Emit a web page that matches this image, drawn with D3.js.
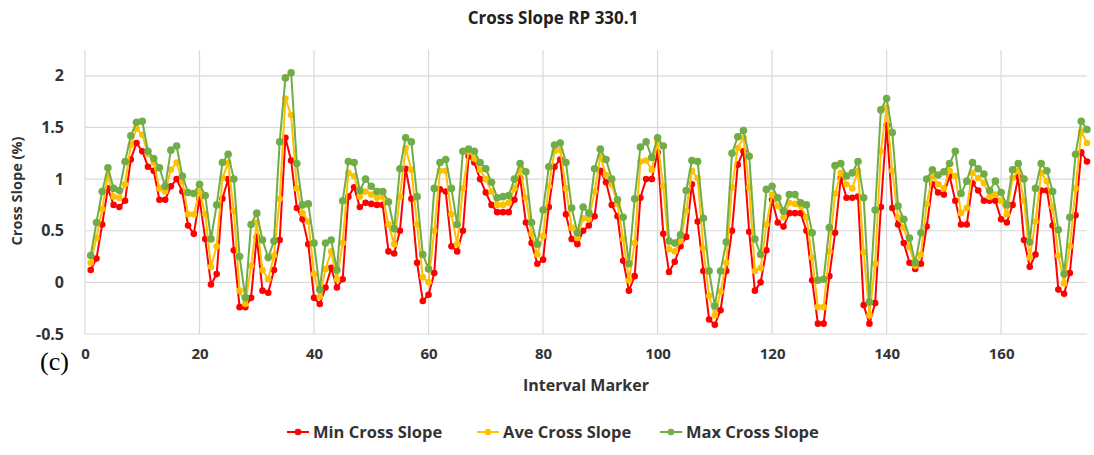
<!DOCTYPE html>
<html><head><meta charset="utf-8">
<script src="https://cdn.jsdelivr.net/npm/d3@7"></script>
<style>
html,body{margin:0;padding:0;background:#fff;}
svg{display:block;}
</style></head>
<body>
<svg id="chart" width="1094" height="455"></svg>
<script>
const title = "Cross Slope RP 330.1";
const xTitle = "Interval Marker";
const yTitle = "Cross Slope (%)";
const seriesNames = ["Min Cross Slope", "Ave Cross Slope", "Max Cross Slope"];
const seriesColors = ["#FF0000", "#FFC000", "#70AD47"];
const xTicks = [0, 20, 40, 60, 80, 100, 120, 140, 160];
const yTicks = [-0.5, 0, 0.5, 1, 1.5, 2];
const yTickLabels = ["-0.5", "0", "0.5", "1", "1.5", "2"];

const minSlope = [0.12,0.23,0.56,0.91,0.75,0.73,0.79,1.19,1.35,1.27,1.12,1.08,0.80,0.80,0.93,1.00,0.88,0.55,0.47,0.81,
0.42,-0.02,0.08,0.81,1.00,0.31,-0.24,-0.24,-0.15,0.44,-0.08,-0.10,0.12,0.41,1.40,1.18,0.72,0.61,0.37,-0.15,
-0.21,-0.05,0.14,-0.05,0.03,0.83,0.92,0.73,0.77,0.76,0.75,0.75,0.30,0.28,0.50,1.10,0.81,0.19,-0.18,-0.12,
0.09,0.90,0.88,0.35,0.30,0.50,1.22,1.16,1.00,0.87,0.75,0.68,0.68,0.68,0.80,1.01,0.58,0.38,0.18,0.22,
0.73,1.12,1.19,0.66,0.42,0.37,0.50,0.55,0.64,1.08,0.97,0.75,0.64,0.21,-0.08,0.06,0.82,1.00,1.00,1.26,
0.47,0.10,0.20,0.35,0.44,0.95,0.59,0.11,-0.36,-0.41,-0.27,0.11,0.50,1.14,1.27,0.49,-0.08,0.00,0.31,0.80,
0.58,0.54,0.67,0.67,0.67,0.50,0.02,-0.40,-0.40,0.06,0.48,1.01,0.82,0.82,0.83,-0.22,-0.40,-0.20,0.73,1.52,
0.72,0.56,0.38,0.19,0.13,0.18,0.54,0.95,0.87,0.85,1.03,0.79,0.56,0.56,0.96,0.89,0.79,0.79,0.79,0.61,
0.58,0.75,1.02,0.41,0.15,0.27,0.89,0.89,0.55,-0.07,-0.11,0.09,0.65,1.26,1.17];

const aveSlope = [0.19,0.43,0.71,1.03,0.83,0.82,0.95,1.33,1.49,1.43,1.24,1.16,0.91,0.88,1.09,1.16,0.98,0.66,0.66,0.88,
0.66,0.15,0.35,1.01,1.16,0.69,-0.08,-0.21,0.16,0.58,0.12,0.03,0.26,0.81,1.78,1.62,0.91,0.67,0.59,0.08,
-0.14,0.13,0.30,0.03,0.38,1.06,1.03,0.83,0.88,0.85,0.82,0.83,0.56,0.37,0.83,1.30,1.09,0.56,0.05,0.00,
0.50,1.08,1.08,0.66,0.37,0.91,1.27,1.20,1.09,1.00,0.88,0.75,0.75,0.77,0.91,1.09,0.82,0.47,0.27,0.45,
0.93,1.27,1.28,0.91,0.53,0.43,0.62,0.61,0.88,1.22,1.04,0.95,0.76,0.42,0.02,0.38,1.17,1.18,1.09,1.36,
0.93,0.32,0.30,0.40,0.69,1.08,1.01,0.33,-0.13,-0.32,-0.09,0.19,0.92,1.30,1.40,0.92,0.11,0.14,0.56,0.85,
0.74,0.63,0.77,0.76,0.74,0.63,0.24,-0.24,-0.24,0.30,0.86,1.06,0.95,0.91,1.08,0.29,-0.32,0.18,1.27,1.69,
1.08,0.63,0.53,0.34,0.16,0.27,0.76,1.03,0.95,0.91,1.08,1.03,0.67,0.72,1.06,1.01,0.96,0.83,0.85,0.79,
0.66,1.01,1.08,0.79,0.24,0.59,1.06,0.98,0.73,0.26,-0.01,0.35,0.91,1.46,1.35];

const maxSlope = [0.26,0.58,0.88,1.11,0.91,0.89,1.17,1.42,1.55,1.56,1.27,1.20,1.11,0.93,1.28,1.32,1.03,0.87,0.86,0.95,
0.84,0.42,0.75,1.16,1.24,1.00,0.25,-0.15,0.56,0.67,0.41,0.24,0.40,1.36,1.98,2.03,1.15,0.75,0.76,0.38,
-0.07,0.38,0.41,0.12,0.79,1.17,1.16,0.89,1.00,0.93,0.88,0.88,0.78,0.52,1.10,1.40,1.36,0.83,0.27,0.13,
0.91,1.16,1.19,0.91,0.56,1.27,1.29,1.27,1.16,1.10,0.97,0.82,0.83,0.84,1.00,1.15,1.07,0.58,0.37,0.70,
1.12,1.33,1.35,1.16,0.72,0.48,0.73,0.67,1.10,1.29,1.19,1.00,0.80,0.63,0.18,0.81,1.31,1.36,1.21,1.40,
1.32,0.40,0.38,0.46,0.89,1.18,1.17,0.62,0.11,-0.23,0.11,0.39,1.25,1.41,1.47,1.22,0.42,0.27,0.90,0.93,
0.82,0.69,0.85,0.85,0.77,0.75,0.48,0.02,0.03,0.53,1.13,1.15,1.03,1.06,1.17,0.82,-0.19,0.70,1.67,1.78,
1.45,0.74,0.61,0.43,0.19,0.48,1.00,1.09,1.04,1.07,1.15,1.27,0.86,0.98,1.16,1.10,1.05,0.89,0.98,0.87,
0.75,1.09,1.15,1.00,0.39,0.91,1.15,1.08,0.88,0.51,0.08,0.63,1.24,1.56,1.48];

const allSeries = [minSlope, aveSlope, maxSlope];
const FONT = "'Open Sans', 'Noto Sans', sans-serif";

const svg = d3.select("#chart");
const plot = {left: 85, right: 1087, top: 50, bottom: 334};
const x = d3.scaleLinear().domain([0, 175]).range([plot.left, plot.right]);
const y = d3.scaleLinear().domain([-0.5, 2.25]).range([plot.bottom, plot.top]);

// gridlines
const grid = svg.append("g");
grid.selectAll("line.h").data(yTicks).enter().append("line")
  .attr("x1", plot.left).attr("x2", plot.right)
  .attr("y1", d => y(d)).attr("y2", d => y(d))
  .attr("stroke", "#d9d9d9").attr("stroke-width", 1.2);
grid.selectAll("line.v").data(xTicks).enter().append("line")
  .attr("x1", d => x(d)).attr("x2", d => x(d))
  .attr("y1", plot.top).attr("y2", plot.bottom)
  .attr("stroke", "#d9d9d9").attr("stroke-width", 1.2);

// axes (labels only)
const yAxis = svg.append("g").attr("transform", `translate(${plot.left - 18},0)`)
  .call(d3.axisLeft(y).tickValues(yTicks).tickSize(0).tickFormat((d,i) => yTickLabels[i]));
yAxis.select(".domain").remove();
yAxis.selectAll("text").style("font-family", FONT).style("font-size", "16px")
  .style("font-weight", "bold").attr("fill", "#333").attr("dx", 0);

const xAxis = svg.append("g").attr("transform", `translate(0,${plot.bottom + 11})`)
  .call(d3.axisBottom(x).tickValues(xTicks).tickSize(0).tickFormat(d3.format("d")));
xAxis.select(".domain").remove();
xAxis.selectAll("text").style("font-family", FONT).style("font-size", "15px")
  .style("font-weight", "bold").attr("fill", "#333");

// series
const line = d3.line().x((d, i) => x(i + 1)).y(d => y(d));
allSeries.forEach((s, k) => {
  const g = svg.append("g");
  g.append("path").datum(s).attr("d", line).attr("fill", "none")
    .attr("stroke", seriesColors[k]).attr("stroke-width", 2).attr("stroke-linejoin", "round");
  g.selectAll("circle").data(s).enter().append("circle")
    .attr("cx", (d, i) => x(i + 1)).attr("cy", d => y(d))
    .attr("r", k === 2 ? 3.8 : 3.3).attr("fill", seriesColors[k]);
});

function label(txt, xx, yy, size, anchor) {
  return svg.append("text").attr("x", xx).attr("y", yy).attr("text-anchor", anchor || "middle")
    .style("font-family", FONT).style("font-size", size + "px").style("font-weight", "bold")
    .attr("fill", "#333").text(txt);
}

// title
label(title, 553, 24, 17).attr("fill", "#222");

// y title
svg.append("text").attr("transform", "translate(22,191) rotate(-90)").attr("text-anchor", "middle")
  .style("font-family", FONT).style("font-size", "14.5px").style("font-weight", "bold")
  .attr("fill", "#333").text(yTitle);

// x title
label(xTitle, (plot.left + plot.right) / 2, 391, 16);

// (c) label
svg.append("text").attr("x", 40).attr("y", 370)
  .style("font-family", "'Liberation Serif', 'DejaVu Serif', serif").style("font-size", "26px")
  .attr("fill", "#000").text("(c)");

// legend
const legendX = [287, 477, 660];
seriesNames.forEach((n, k) => {
  const g = svg.append("g").attr("transform", `translate(${legendX[k]},432)`);
  g.append("line").attr("x1", 0).attr("x2", 22).attr("y1", 0).attr("y2", 0)
    .attr("stroke", seriesColors[k]).attr("stroke-width", 2);
  g.append("circle").attr("cx", 11).attr("cy", 0).attr("r", 3.3).attr("fill", seriesColors[k]);
  g.append("text").attr("x", 26).attr("y", 5.5).style("font-family", FONT).style("font-size", "16.5px")
    .style("font-weight", "bold").attr("fill", "#333").text(n);
});
</script>
</body></html>
